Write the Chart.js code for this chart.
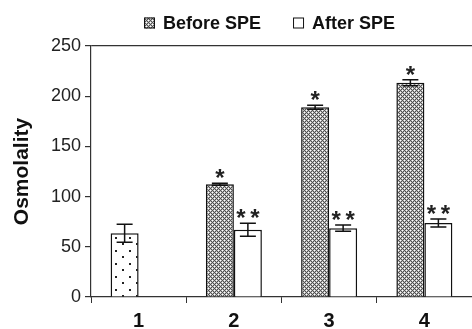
<!DOCTYPE html>
<html>
<head>
<meta charset="utf-8">
<script src="https://cdn.jsdelivr.net/npm/chart.js@4/dist/chart.umd.min.js"></script>
<style>
  html, body { margin: 0; padding: 0; background: #fff; }
  canvas { display: block; }
</style>
</head>
<body>
<canvas id="c" width="472" height="329"></canvas>
<script>
const categories = ["1", "2", "3", "4"];
const seriesNames = ["Before SPE", "After SPE"];
const beforeValues = [63.5, 112.3, 189, 213.3];
const afterValues = [null, 67, 68.6, 73.6];
const beforeErrors = [9, 1, 2, 3];
const afterErrors = [null, 6.5, 3, 4];
const beforeMarks = ["", "*", "*", "*"];
const afterMarks = ["", "**", "**", "**"];
const yTicks = [0, 50, 100, 150, 200, 250];

const FONT = "Arial, 'Liberation Sans', sans-serif";

function makeHatch() {
  const c = document.createElement('canvas');
  c.width = 4; c.height = 4;
  const g = c.getContext('2d');
  g.fillStyle = '#505050';
  g.fillRect(0, 0, 4, 4);
  g.fillStyle = '#bcbcbc';
  [[1,0],[3,0],[0,1],[0,3],[1,2],[3,2],[2,1],[2,3]].forEach(p => g.fillRect(p[0], p[1], 1, 1));
  g.fillStyle = '#ffffff';
  g.fillRect(0, 0, 1, 1);
  g.fillRect(2, 2, 1, 1);
  return g.createPattern(c, 'repeat');
}
function makeDots() {
  const c = document.createElement('canvas');
  c.width = 14; c.height = 13;
  const g = c.getContext('2d');
  g.fillStyle = '#fff';
  g.fillRect(0, 0, 14, 13);
  g.fillStyle = '#222';
  g.fillRect(3, 3, 2, 2);
  g.fillRect(10, 9, 2, 2);
  return g.createPattern(c, 'repeat');
}
const hatch = makeHatch();
const dots = makeDots();

const errorPlugin = {
  id: 'errs',
  afterDatasetsDraw(chart) {
    const ctx = chart.ctx;
    const y = chart.scales.y;
    const errs = [beforeErrors, afterErrors];
    const marks = [beforeMarks, afterMarks];
    chart.data.datasets.forEach((ds, di) => {
      const meta = chart.getDatasetMeta(di);
      meta.data.forEach((bar, i) => {
        const v = ds.data[i];
        if (v === null || v === undefined) return;
        const e = errs[di][i] || 0;
        const yt = y.getPixelForValue(v + e);
        const yb = y.getPixelForValue(v - e);
        const x = bar.x;
        ctx.save();
        ctx.strokeStyle = '#111';
        ctx.lineWidth = 1.5;
        ctx.beginPath();
        ctx.moveTo(x, yt); ctx.lineTo(x, yb);
        ctx.moveTo(x - 8, yt); ctx.lineTo(x + 8, yt);
        ctx.moveTo(x - 8, yb); ctx.lineTo(x + 8, yb);
        ctx.stroke();
        const m = marks[di][i];
        if (m) {
          ctx.fillStyle = '#222';
          ctx.font = 'bold 24px ' + FONT;
          ctx.textAlign = 'center';
          ctx.textBaseline = 'alphabetic';
          const n = m.length;
          for (let k = 0; k < n; k++) {
            const cx = x + (k - (n - 1) / 2) * 14;
            ctx.fillText(m[k], cx, yt + 3);
          }
        }
        ctx.restore();
      });
    });
  }
};

const legendPlugin = {
  id: 'customLegend',
  afterDraw(chart) {
    const ctx = chart.ctx;
    ctx.save();
    ctx.font = 'bold 18px ' + FONT;
    ctx.textBaseline = 'middle';
    ctx.textAlign = 'left';
    let x = 144;
    const yc = 23;
    chart.data.datasets.forEach((ds, di) => {
      ctx.fillStyle = di === 0 ? hatch : '#fff';
      ctx.fillRect(x, yc - 5.5, 11, 11);
      ctx.strokeStyle = '#111';
      ctx.lineWidth = 1;
      ctx.strokeRect(x + 0.5, yc - 5, 10, 10);
      ctx.fillStyle = '#111';
      ctx.fillText(ds.label, x + 19, yc + 1);
      x += 19 + ctx.measureText(ds.label).width + 32;
    });
    ctx.restore();
  }
};

new Chart(document.getElementById('c'), {
  type: 'bar',
  data: {
    labels: categories,
    datasets: [
      {
        label: seriesNames[0],
        data: beforeValues,
        backgroundColor: (c) => c.dataIndex === 0 ? dots : hatch,
        borderColor: '#111',
        borderWidth: 1.5,
        categoryPercentage: 0.588,
        barPercentage: 1.0
      },
      {
        label: seriesNames[1],
        data: afterValues,
        backgroundColor: '#fff',
        borderColor: '#111',
        borderWidth: 1.5,
        categoryPercentage: 0.588,
        barPercentage: 1.0
      }
    ]
  },
  options: {
    responsive: false,
    animation: false,
    devicePixelRatio: 1,
    layout: { padding: { top: 46, left: 0, right: 0, bottom: 0 } },
    plugins: {
      legend: { display: false },
      tooltip: { enabled: false }
    },
    scales: {
      x: {
        grid: { display: true, offset: true, color: 'transparent', tickColor: '#333', tickLength: 6, drawOnChartArea: false },
        border: { display: true, color: '#333', width: 1.2 },
        ticks: { font: { family: FONT, size: 20, weight: 'bold' }, color: '#111', padding: 6 },
        afterFit(s) { s.height = 32; }
      },
      y: {
        min: 0, max: 250,
        afterBuildTicks(s) { s.ticks = yTicks.map(v => ({ value: v })); },
        grid: {
          color: (c) => (c.tick && c.tick.value === 250) ? '#333' : 'transparent',
          tickColor: '#333', tickLength: 6, lineWidth: 1.2
        },
        border: { display: true, color: '#333', width: 1.2 },
        ticks: { font: { family: FONT, size: 18 }, color: '#222', padding: 4 },
        title: {
          display: true, text: 'Osmolality',
          font: { family: FONT, size: 21, weight: 'bold' }, color: '#111',
          padding: { top: 10, bottom: 0 }
        },
        afterFit(s) { s.width = 91; }
      }
    }
  },
  plugins: [errorPlugin, legendPlugin]
});
</script>
</body>
</html>
